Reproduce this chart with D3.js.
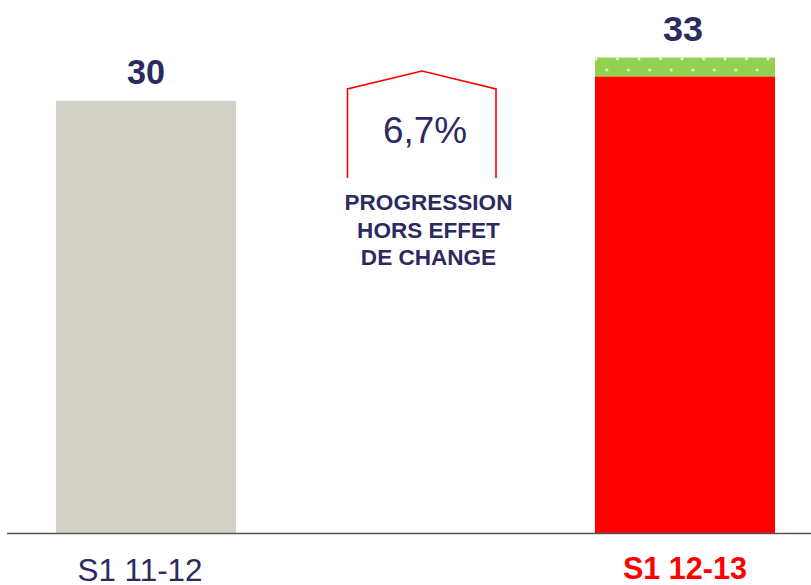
<!DOCTYPE html>
<html><head><meta charset="utf-8">
<script src="https://cdn.jsdelivr.net/npm/d3@7"></script>
<style>html,body{margin:0;padding:0;background:#fff;}svg{display:block;}</style>
</head><body>
<svg id="c" width="811" height="585"></svg>
<script>
const categories = ["S1 11-12", "S1 12-13"];
const baseValues = [30, 31.7];
const fxEffect = [0, 1.3];
const totalLabels = ["30", "33"];
const growthLabel = "6,7%";
const growthNote = ["PROGRESSION", "HORS EFFET", "DE CHANGE"];

const W = 811, H = 585, baseY = 533;
const navy = "#2b2b5f";
const FONT = "Liberation Sans, Arial, sans-serif";
const svg = d3.select("#c");

// scale a text's font size so that its width matches a target width
function fit(sel, target) {
  sel.each(function() {
    const fs = +this.getAttribute("font-size");
    const len = this.getComputedTextLength();
    if (len > 0) this.setAttribute("font-size", (fs * target / len).toFixed(2));
  });
}

const defs = svg.append("defs");
const pat = defs.append("pattern").attr("id","dots").attr("patternUnits","userSpaceOnUse")
  .attr("x",596).attr("y",59).attr("width",21.5).attr("height",22);
pat.append("rect").attr("width",21.5).attr("height",22).attr("fill","#92d050");
[[0,0],[21.5,0],[10.75,11],[0,22],[21.5,22]].forEach(p =>
  pat.append("circle").attr("cx",p[0]).attr("cy",p[1]).attr("r",1.5).attr("fill","#e8f4d8"));

const x = d3.scaleBand().domain(categories).range([56, 775]).paddingInner(0.666).paddingOuter(0);
const y = d3.scaleLinear().domain([0, 37]).range([baseY, 0]);
const bw = x.bandwidth();

const baseColors = ["#d4d1c9", "#ff0000"];
svg.selectAll("rect.base").data(categories).enter().append("rect")
  .attr("class","base")
  .attr("x", d => x(d)).attr("width", bw)
  .attr("y", (d,i) => y(baseValues[i]))
  .attr("height", (d,i) => y(0) - y(baseValues[i]))
  .attr("fill", (d,i) => baseColors[i]);

svg.selectAll("rect.fx").data(categories.filter((d,i)=>fxEffect[i]>0)).enter().append("rect")
  .attr("class","fx")
  .attr("x", d => x(d)).attr("width", bw)
  .attr("y", d => { const i = categories.indexOf(d); return y(baseValues[i] + fxEffect[i]); })
  .attr("height", d => { const i = categories.indexOf(d); return y(baseValues[i]) - y(baseValues[i] + fxEffect[i]); })
  .attr("fill", "url(#dots)");

// axis
const axis = d3.axisBottom(x).tickSize(0).tickFormat("");
const ag = svg.append("g").attr("transform", `translate(0,${baseY})`).call(axis);
ag.select(".domain").attr("d", `M7,0.5H811`).attr("stroke", "#555").attr("stroke-width", 1.6);

// total labels
const totW = [38, 40];
svg.selectAll("text.tot").data(categories).enter().append("text")
  .attr("class","tot")
  .attr("x", (d,i) => x(d) + bw/2 + (i===0 ? 0 : -2))
  .attr("y", (d,i) => y(baseValues[i] + fxEffect[i]) - 17)
  .attr("text-anchor","middle")
  .attr("font-family", FONT)
  .attr("font-weight","bold").attr("font-size", 35)
  .attr("fill", navy)
  .text((d,i) => totalLabels[i])
  .each(function(d,i){ fit(d3.select(this), totW[i]); });

// category labels
const catW = [125, 124];
const catX = [140, 685];
svg.selectAll("text.cat").data(categories).enter().append("text")
  .attr("class","cat")
  .attr("x", (d,i) => catX[i])
  .attr("y", (d,i) => i===0 ? 581 : 579)
  .attr("text-anchor","middle")
  .attr("font-family", FONT)
  .attr("font-weight", (d,i) => i===0 ? "normal" : "bold")
  .attr("font-size", (d,i) => i===0 ? 30 : 27)
  .attr("fill", (d,i) => i===0 ? navy : "#ff0000")
  .text(d => d)
  .each(function(d,i){ fit(d3.select(this), catW[i]); });

// growth annotation (house shape)
const hx0 = 347.5, hx1 = 496, hpx = 422, hTop = 71, hSh = 89, hBot = 178;
svg.append("path")
  .attr("d", `M${hx0},${hBot}V${hSh}L${hpx},${hTop}L${hx1},${hSh}V${hBot}`)
  .attr("fill","none").attr("stroke","#ff0000").attr("stroke-width",1.6);
svg.append("text").attr("x", 425).attr("y", 143).attr("text-anchor","middle")
  .attr("font-family", FONT).attr("font-size",35)
  .attr("fill", navy).text(growthLabel)
  .call(fit, 84);
const noteW = [168, 146, 142];
svg.selectAll("text.note").data(growthNote).enter().append("text")
  .attr("class","note")
  .attr("x", 428.5).attr("y", (d,i) => 210 + i*27.5)
  .attr("text-anchor","middle")
  .attr("font-family", FONT)
  .attr("font-weight","bold").attr("font-size",22)
  .attr("fill", navy).text(d => d);
svg.selectAll("text.note").call(fit, 168);
// keep a single size for all three note lines
const nfs = svg.select("text.note").attr("font-size");
svg.selectAll("text.note").attr("font-size", nfs);
</script>
</body></html>
